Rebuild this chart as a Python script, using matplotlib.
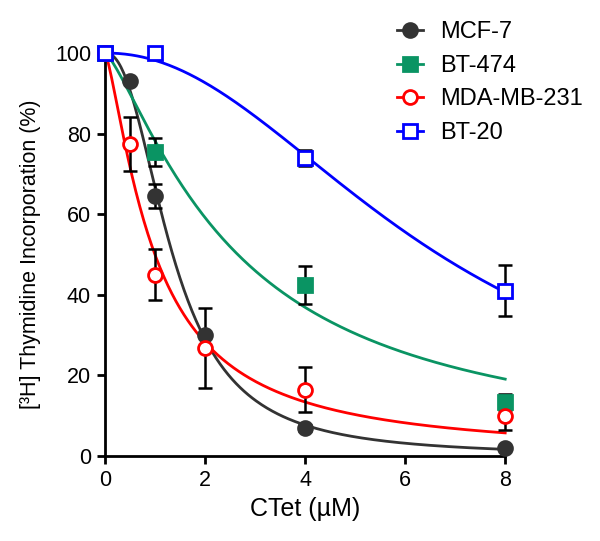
import numpy as np
import matplotlib.pyplot as plt
from matplotlib.lines import Line2D

plt.rcParams['font.family'] = ['Liberation Sans', 'DejaVu Sans']

# Données
labels = ["MCF-7", "BT-474", "MDA-MB-231", "BT-20"]
x_mcf7 = [0, 0.5, 1, 2, 4, 8]
y_mcf7 = [100, 93, 64.5, 30, 7, 2]
e_mcf7 = [0, 0, 3, 0, 0.8, 0]
x_bt474 = [0, 1, 4, 8]
y_bt474 = [100, 75.5, 42.5, 13.5]
e_bt474 = [0, 3.5, 4.7, 2]
x_mda = [0, 0.5, 1, 2, 4, 8]
y_mda = [100, 77.5, 45, 26.8, 16.5, 10]
e_mda = [0, 6.7, 6.4, 10, 5.6, 3.5]
x_bt20 = [0, 1, 4, 8]
y_bt20 = [100, 100, 74, 41]
e_bt20 = [0, 0, 2, 6.3]

colors = ["#333333", "#0a9463", "#ff0000", "#0000ff"]
markers = ["o", "s", "o", "s"]
filled = [True, True, False, False]


def fit_hill(x, y):
    # ajustement simple y = 100 / (1 + (x/c)^h) par recherche sur grille
    x = np.asarray(x, float)
    y = np.asarray(y, float)
    best = None
    for c in np.linspace(0.2, 12, 400):
        for h in np.linspace(0.5, 4, 200):
            pred = 100 / (1 + (x / c) ** h)
            err = np.sum((pred - y) ** 2)
            if best is None or err < best[0]:
                best = (err, c, h)
    return best[1], best[2]


fig = plt.figure(figsize=(6, 5.41), dpi=100)
ax = fig.add_axes([0.175, 0.157, 0.667, 0.745])

series = [(x_mcf7, y_mcf7, e_mcf7), (x_bt474, y_bt474, e_bt474),
          (x_mda, y_mda, e_mda), (x_bt20, y_bt20, e_bt20)]

xs = np.linspace(0, 8, 300)
handles = []
for (x, y, e), col, mk, fl, lab in zip(series, colors, markers, filled, labels):
    c, h = fit_hill(x, y)
    ax.plot(xs, 100 / (1 + (xs / c) ** h), color=col, lw=2, zorder=2, clip_on=False)
    ax.errorbar(x, y, yerr=e, fmt='none', ecolor='black', elinewidth=1.8,
                capsize=5, capthick=1.8, zorder=3, clip_on=False)
    fc = col if fl else 'white'
    ms = 10 if mk == 'o' else 9.5
    ax.plot(x, y, ls='none', marker=mk, ms=ms, mfc=fc,
            mec=col, mew=2, zorder=4, clip_on=False)
    handles.append(Line2D([], [], color=col, lw=2, marker=mk, ms=ms,
                          mfc=fc, mec=col, mew=2))

ax.set_xlim(0, 8)
ax.set_ylim(0, 100)
ax.set_xticks([0, 2, 4, 6, 8])
ax.set_yticks([0, 20, 40, 60, 80, 100])
for s in ['top', 'right']:
    ax.spines[s].set_visible(False)
for s in ['left', 'bottom']:
    ax.spines[s].set_linewidth(2)
ax.tick_params(width=2, length=6, labelsize=15.5, pad=4)
ax.set_xlabel("CTet (µM)", fontsize=18, labelpad=4)
ax.set_ylabel("[³H] Thymidine Incorporation (%)", fontsize=15.5, labelpad=10)

fig.legend(handles, labels, loc='upper left', bbox_to_anchor=(0.627, 1.0),
           frameon=False, fontsize=17, handlelength=1.1, labelspacing=0.49,
           handletextpad=0.7)

fig.savefig("out.png")
